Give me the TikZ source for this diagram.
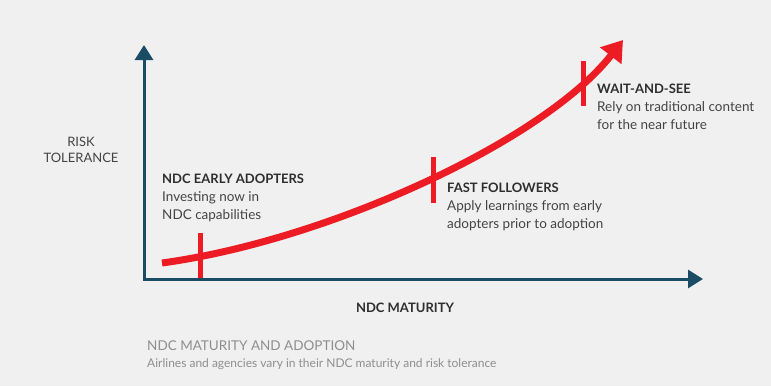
\documentclass[tikz,border=0pt]{standalone}
\usepackage{fontspec}
\setmainfont{Lato}
\usetikzlibrary{arrows.meta}
\definecolor{Fond}{HTML}{F0F0F0}
\definecolor{Axe}{HTML}{1B4C66}
\definecolor{Rouge}{HTML}{ED1C24}
\definecolor{Texte}{HTML}{2E2E2E}
\definecolor{Corps}{HTML}{444444}
\definecolor{Gris}{HTML}{8E8E8E}
\tikzset{
  titre/.style={anchor=base west, inner sep=0, text=Texte, font=\fontsize{13}{15}\selectfont\bfseries},
  corps/.style={anchor=base west, inner sep=0, text=Corps, font=\fontsize{13.5}{15}\selectfont},
}
\begin{document}
\begin{tikzpicture}[x=1pt,y=-1pt]
        \fill[Fond] (0,0) rectangle (771,386);
        % axes
        \coordinate (O) at (144,279);
        \coordinate (haut) at (144,45);
        \coordinate (droite) at (703,279);
        \draw[Axe, line width=3pt, {Triangle[length=15pt,width=18pt]}-{Triangle[length=15pt,width=18pt]}] (haut) -- (O) -- (droite);
        \node[corps, anchor=base, font=\fontsize{13}{15}\selectfont] (risque) at (81,146) {RISK};
        \node[corps, anchor=base, font=\fontsize{13}{15}\selectfont] (tolerance) at (81,162) {TOLERANCE};
        \node[titre, anchor=base] (maturite) at (405,312) {NDC MATURITY};
        % courbe
        \coordinate (debut) at (162,263);
        \coordinate (fin) at (623,40);
        \draw[Rouge, line width=7pt, -{Triangle[length=20pt,width=26pt]}] (debut) .. controls (330,240) and (545,140) .. (fin);
        \foreach \x/\yh/\yb in {200/233/278, 433/157/203, 583/61/106}
          \draw[Rouge, line width=5pt] (\x,\yh) -- (\x,\yb);
        % etapes
        \foreach \nom/\x/\y/\tete/\la/\lb in {early/162/183/NDC EARLY ADOPTERS/Investing now in/NDC capabilities, fast/447/192/FAST FOLLOWERS/Apply learnings from early/adopters prior to adoption, wait/597/93/WAIT-AND-SEE/Rely on traditional content/for the near future}{
          \node[titre] (\nom) at (\x,\y) {\tete};
          \node[corps] (\nom-1) at (\x,\y+18) {\la};
          \node[corps] (\nom-2) at (\x,\y+36) {\lb};
        }
        % legende
        \node[corps, text=Gris, font=\fontsize{13.5}{16}\selectfont] (legende) at (147,350) {NDC MATURITY AND ADOPTION};
        \node[corps, text=Gris, font=\fontsize{12}{14}\selectfont] (sous-legende) at (147,367) {Airlines and agencies vary in their NDC maturity and risk tolerance};
      \end{tikzpicture}
\end{document}
